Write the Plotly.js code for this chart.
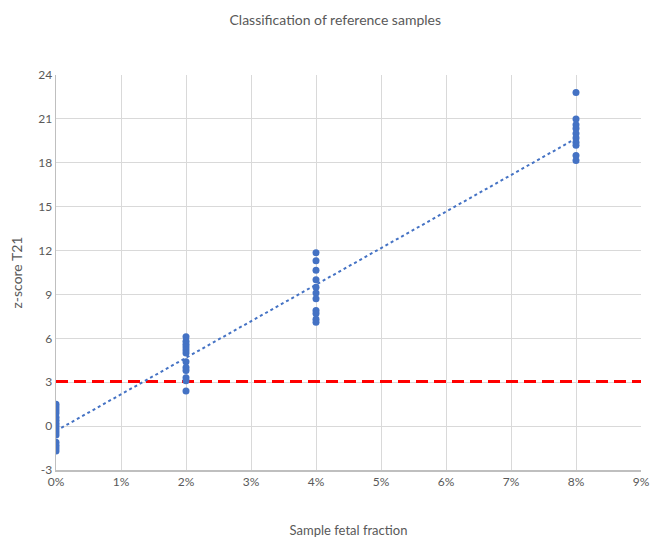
<!DOCTYPE html>
<html>
<head>
<meta charset="utf-8">
<script src="https://cdn.plot.ly/plotly-3.0.1.min.js"></script>
<style>html,body{margin:0;padding:0;background:#fff;}#chart{width:651px;height:538px;}</style>
</head>
<body>
<div id="chart"></div>
<script>
// Fetal fraction groups (as fractions) and z-scores
const fractions = [0, 0.02, 0.04, 0.08];
const z0 = [1.5, 1.3, 1.1, 0.9, 0.6, 0.4, 0.2, 0.0, -0.2, -0.4, -0.6, -1.1, -1.3, -1.5, -1.7];
const z2 = [6.1, 5.8, 5.6, 5.4, 5.2, 5.0, 4.4, 4.0, 3.8, 3.3, 3.1, 2.4];
const z4 = [11.85, 11.3, 10.65, 10.0, 9.5, 9.1, 8.7, 7.9, 7.7, 7.3, 7.1];
const z8 = [22.8, 21.0, 20.6, 20.35, 20.0, 19.7, 19.4, 19.2, 18.5, 18.15];
const threshold = 3.05;
const xRange = [0, 0.09];
const xTickVals = [0, 0.01, 0.02, 0.03, 0.04, 0.05, 0.06, 0.07, 0.08, 0.0899999];
const xTickText = ['0%', '1%', '2%', '3%', '4%', '5%', '6%', '7%', '8%', '9%'];
const yTickVals = [-3, 0, 3, 6, 9, 12, 15, 18, 21, 24];
const yTickText = ['-3', '0', '3', '6', '9', '12', '15', '18', '21', '24'];

const groups = [z0, z2, z4, z8];
const xs = [], ys = [];
groups.forEach((g, i) => g.forEach(v => { xs.push(fractions[i]); ys.push(v); }));

// least-squares trendline computed from the data
const n = xs.length;
const mx = xs.reduce((a, b) => a + b, 0) / n;
const my = ys.reduce((a, b) => a + b, 0) / n;
let sxy = 0, sxx = 0;
for (let i = 0; i < n; i++) { sxy += (xs[i] - mx) * (ys[i] - my); sxx += (xs[i] - mx) ** 2; }
const slope = sxy / sxx, intercept = my - slope * mx;
const trendX = [fractions[0], fractions[fractions.length - 1]];
const trendY = trendX.map(x => intercept + slope * x);

const font = {family: 'Lato, "Open Sans", sans-serif', color: '#595959'};

const traces = [
  {x: xRange, y: [threshold, threshold], mode: 'lines', line: {color: '#ff0000', width: 3, dash: '12px,6px'}, hoverinfo: 'skip'},
  {x: trendX, y: trendY, mode: 'lines', line: {color: '#4472c4', width: 2, dash: 'dot'}, hoverinfo: 'skip'},
  {x: xs, y: ys, mode: 'markers', marker: {color: '#4472c4', size: 7}}
];

const layout = {
  width: 651, height: 538,
  margin: {l: 56, r: 10, t: 75, b: 68},
  paper_bgcolor: '#fff', plot_bgcolor: '#fff',
  showlegend: false,
  font: font,
  title: {text: 'Classification of reference samples', font: {family: font.family, size: 14, color: '#595959'}, x: 0.515, xref: 'container', y: 0.962, yanchor: 'middle'},
  xaxis: {
    range: xRange, tickmode: 'array', tickvals: xTickVals, ticktext: xTickText,
    ticklabeloverflow: 'allow',
    showgrid: true, gridcolor: '#d9d9d9', gridwidth: 1,
    showline: true, linecolor: '#bfbfbf', linewidth: 1.5, mirror: false,
    zeroline: false, ticks: '', tickfont: {size: 12, color: '#595959'},
    title: {text: 'Sample fetal fraction', font: {size: 13, color: '#595959'}, standoff: 40}
  },
  yaxis: {
    range: [-3, 24], tickmode: 'array', tickvals: yTickVals, ticktext: yTickText,
    showgrid: true, gridcolor: '#d9d9d9', gridwidth: 1,
    showline: true, linecolor: '#bfbfbf', linewidth: 1.5,
    zeroline: true, zerolinecolor: '#d9d9d9', zerolinewidth: 1,
    ticks: '', tickfont: {size: 12, color: '#595959'},
    title: {text: 'z-score T21', font: {size: 14, color: '#595959'}, standoff: 12}
  }
};

Plotly.newPlot('chart', traces, layout, {displayModeBar: false, staticPlot: true});
</script>
</body>
</html>
